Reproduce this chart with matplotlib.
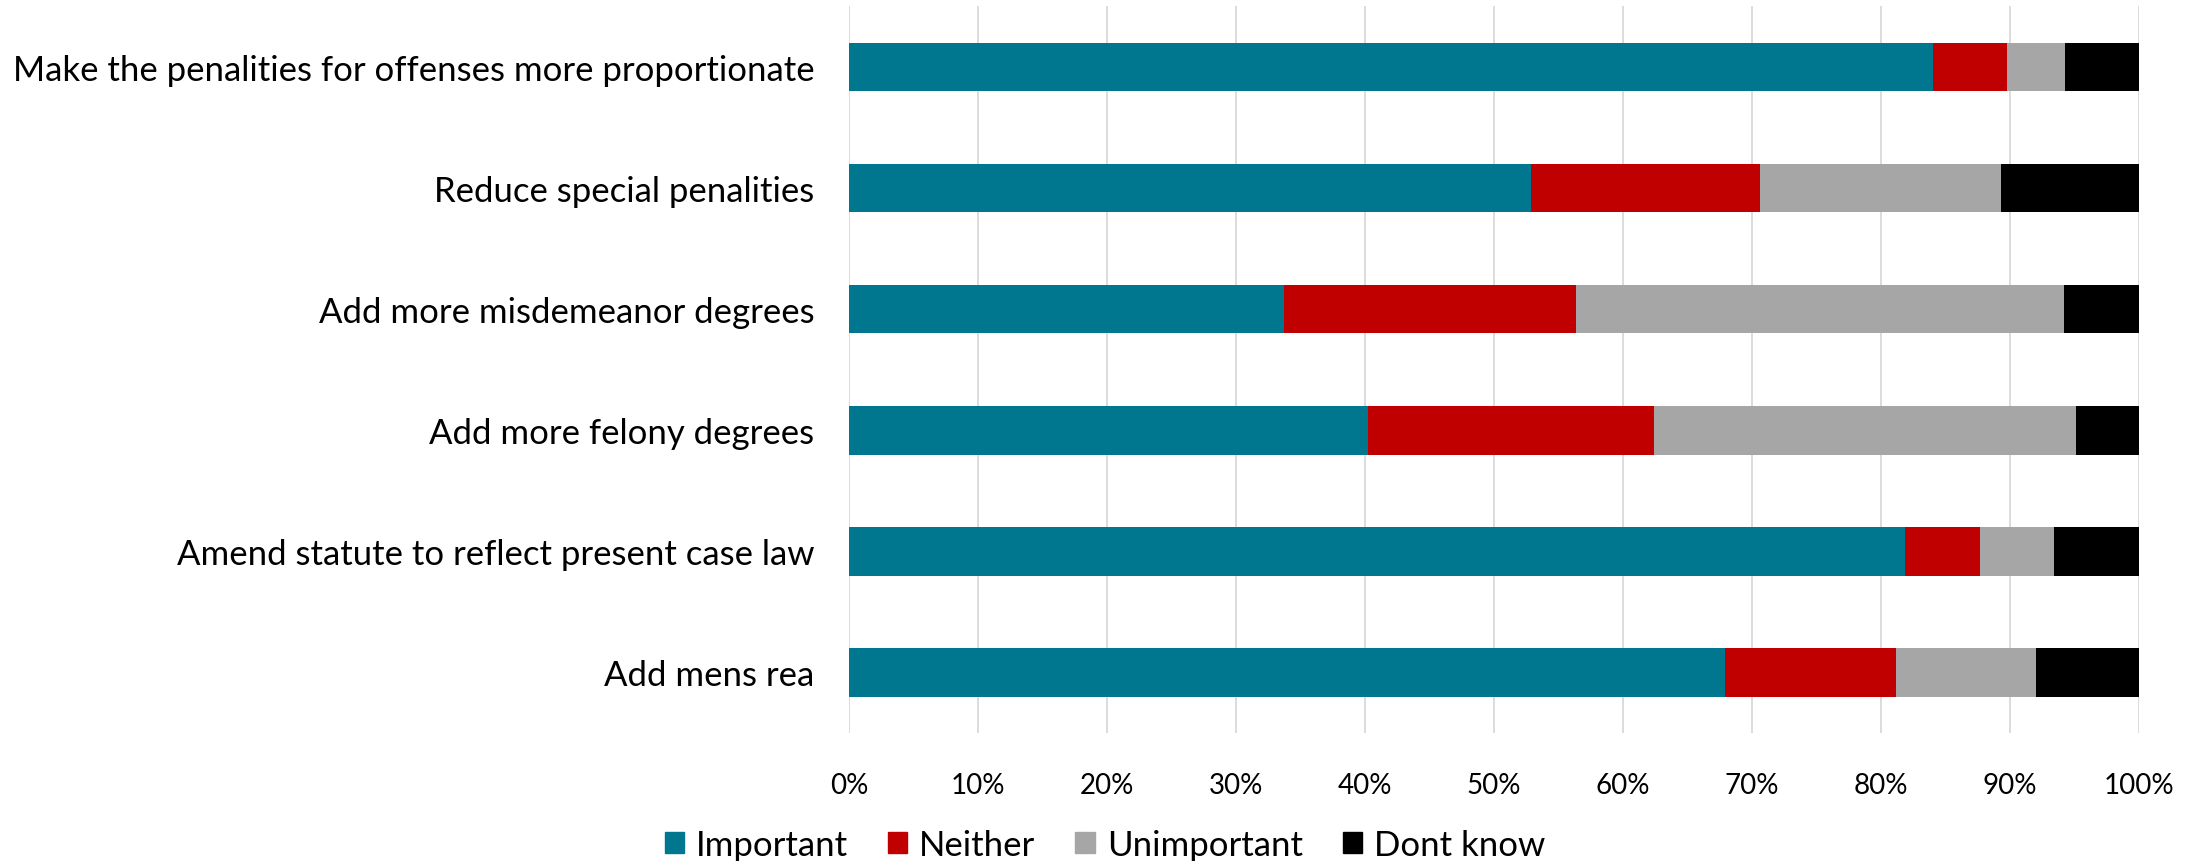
import matplotlib.pyplot as plt
from matplotlib.patches import Patch
from matplotlib.ticker import PercentFormatter

# survey items, top to bottom as shown
items = [
    "Make the penalities for offenses more proportionate",
    "Reduce special penalities",
    "Add more misdemeanor degrees",
    "Add more felony degrees",
    "Amend statute to reflect present case law",
    "Add mens rea",
]
important = [84.0, 52.9, 33.7, 40.2, 81.9, 67.9]
neither = [5.8, 17.7, 22.7, 22.2, 5.8, 13.3]
unimportant = [4.5, 18.7, 37.8, 32.7, 5.7, 10.8]
dont_know = [5.7, 10.7, 5.8, 4.9, 6.6, 8.0]

series = ["Important", "Neither", "Unimportant", "Dont know"]
colors = ["#00768F", "#C00000", "#A6A6A6", "#000000"]

plt.rcParams["font.family"] = ["Lato", "DejaVu Sans"]

fig = plt.figure(figsize=(22.01, 8.62), dpi=100)
ax = fig.add_axes([0.3857, 0.1485, 0.9718 - 0.3857, 0.9913 - 0.1485])

ypos = list(range(len(items)))
left = [0.0] * len(items)
for vals, name, col in zip([important, neither, unimportant, dont_know], series, colors):
    ax.barh(ypos, vals, left=left, height=0.4, color=col, label=name, zorder=3)
    left = [a + b for a, b in zip(left, vals)]

ax.set_yticks(ypos)
ax.set_yticklabels(items, fontsize=25)
ax.set_ylim(len(items) - 0.5, -0.5)
ax.set_xlim(0, 100)
ax.set_xticks(range(0, 101, 10))
ax.xaxis.set_major_formatter(PercentFormatter(decimals=0))
ax.tick_params(axis="x", labelsize=20, length=0, pad=28)
ax.tick_params(axis="y", length=0, pad=25)
ax.grid(axis="x", color="#D9D9D9", linewidth=1.3, zorder=0)
for s in ax.spines.values():
    s.set_visible(False)

handles = [Patch(color=c, label=n) for n, c in zip(series, colors)]
fig.legend(handles=handles, loc="center", bbox_to_anchor=(0.502, 1 - 846 / 862),
           ncol=4, frameon=False, fontsize=25, handlelength=0.55, handleheight=0.55,
           handletextpad=0.35, columnspacing=1.15, borderaxespad=0)

fig.savefig("out.png", dpi=100)
